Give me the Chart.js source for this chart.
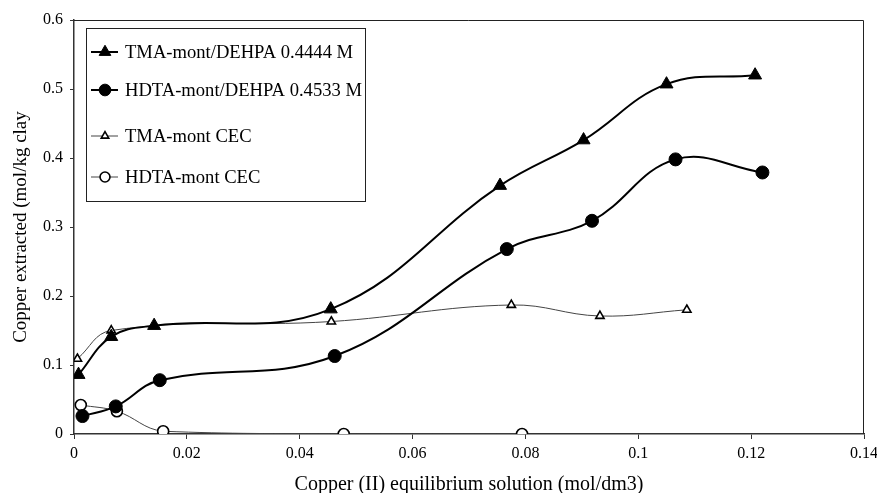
<!DOCTYPE html>
<html>
<head>
<meta charset="utf-8">
<script src="https://cdn.jsdelivr.net/npm/chart.js@4.4.1/dist/chart.umd.min.js"></script>
<style>
  html, body { margin: 0; padding: 0; background: #fff; }
  #wrap { width: 877px; height: 493px; }
</style>
</head>
<body>
<div id="wrap"><canvas id="c" width="877" height="493"></canvas></div>
<script>
// ---- data ----
const seriesNames = [
  'TMA-mont/DEHPA 0.4444 M',
  'HDTA-mont/DEHPA 0.4533 M',
  'TMA-mont CEC',
  'HDTA-mont CEC'
];
const tmaDehpaX = [0.0008, 0.0066, 0.0142, 0.0455, 0.0755, 0.0903, 0.105, 0.1207];
const tmaDehpaY = [0.086, 0.141, 0.157, 0.181, 0.360, 0.426, 0.507, 0.520];
const hdtaDehpaX = [0.0015, 0.0074, 0.0152, 0.0462, 0.0767, 0.0918, 0.1066, 0.122];
const hdtaDehpaY = [0.026, 0.040, 0.078, 0.113, 0.268, 0.309, 0.398, 0.379];
const tmaCecX = [0.0006, 0.0066, 0.0456, 0.0775, 0.0932, 0.1086];
const tmaCecY = [0.109, 0.150, 0.163, 0.187, 0.171, 0.180];
const hdtaCecX = [0.0012, 0.0076, 0.0158, 0.0478, 0.0794];
const hdtaCecY = [0.042, 0.033, 0.004, 0.000, 0.000];
const xTickLabels = ['0', '0.02', '0.04', '0.06', '0.08', '0.1', '0.12', '0.14'];
const yTickLabels = ['0', '0.1', '0.2', '0.3', '0.4', '0.5', '0.6'];
const xTitle = 'Copper (II) equilibrium solution (mol/dm3)';
const yTitle = 'Copper extracted (mol/kg clay';

function pts(xs, ys) { return xs.map((x, i) => ({ x: x, y: ys[i] })); }

const serif = "'Liberation Serif', 'Times New Roman', serif";

const datasets = [
  { label: seriesNames[0], data: pts(tmaDehpaX, tmaDehpaY), borderColor: '#000', borderWidth: 2,
    pointStyle: 'triangle', pointRadius: 7.5, pointBackgroundColor: '#000', pointBorderColor: '#000', pointBorderWidth: 1 },
  { label: seriesNames[1], data: pts(hdtaDehpaX, hdtaDehpaY), borderColor: '#000', borderWidth: 2,
    pointStyle: 'circle', pointRadius: 6.5, pointBackgroundColor: '#000', pointBorderColor: '#000', pointBorderWidth: 1 },
  { label: seriesNames[2], data: pts(tmaCecX, tmaCecY), borderColor: '#444', borderWidth: 1,
    pointStyle: 'triangle', pointRadius: 4.8, pointBackgroundColor: '#fff', pointBorderColor: '#000', pointBorderWidth: 1.6 },
  { label: seriesNames[3], data: pts(hdtaCecX, hdtaCecY), borderColor: '#444', borderWidth: 1,
    pointStyle: 'circle', pointRadius: 5.5, pointBackgroundColor: '#fff', pointBorderColor: '#000', pointBorderWidth: 1.6 }
].map(d => Object.assign({ fill: false, tension: 0.4, showLine: true }, d));

const frameAndLegend = {
  id: 'frameAndLegend',
  afterDatasetsDraw(chart) {
    const ctx = chart.ctx;
    const a = chart.chartArea;
    ctx.save();
    // plot frame (top and right sides)
    ctx.strokeStyle = '#222';
    ctx.lineWidth = 1;
    ctx.beginPath();
    ctx.moveTo(a.left, a.top + 0.5);
    ctx.lineTo(a.right - 0.5, a.top + 0.5);
    ctx.lineTo(a.right - 0.5, a.bottom);
    ctx.stroke();
    // legend box
    const bx = 86.5, by = 28.5, bw = 279, bh = 173;
    ctx.fillStyle = '#fff';
    ctx.fillRect(bx, by, bw, bh);
    ctx.strokeStyle = '#222';
    ctx.strokeRect(bx, by, bw, bh);
    const rows = [52, 90, 136, 177];
    ctx.font = '18.6px ' + serif;
    ctx.textBaseline = 'middle';
    ctx.textAlign = 'left';
    chart.data.datasets.forEach((ds, i) => {
      const y = rows[i];
      ctx.strokeStyle = ds.borderColor;
      ctx.lineWidth = ds.borderWidth;
      ctx.beginPath();
      ctx.moveTo(91, y);
      ctx.lineTo(118, y);
      ctx.stroke();
      ctx.fillStyle = ds.pointBackgroundColor;
      ctx.strokeStyle = ds.pointBorderColor;
      ctx.lineWidth = ds.pointBorderWidth;
      Chart.helpers.drawPoint(ctx, { pointStyle: ds.pointStyle, radius: ds.pointRadius * 0.9, borderWidth: ds.pointBorderWidth }, 105, y);
      ctx.fillStyle = '#000';
      ctx.fillText(ds.label, 125, y + 1);
    });
    ctx.restore();
  }
};

new Chart(document.getElementById('c'), {
  type: 'line',
  data: { datasets: datasets },
  plugins: [frameAndLegend],
  options: {
    responsive: false,
    animation: false,
    events: [],
    layout: { padding: { top: 20, right: 13, bottom: 0, left: 0 } },
    plugins: { legend: { display: false }, tooltip: { enabled: false } },
    scales: {
      x: {
        type: 'linear', min: 0, max: 0.14,
        afterFit(s) { s.height = 59; s.paddingRight = 0; s.paddingLeft = 0; },
        ticks: { stepSize: 0.02, padding: 5, color: '#000', font: { family: serif, size: 16 },
          callback: (v) => xTickLabels[Math.round(v / 0.02)] },
        grid: { drawOnChartArea: false, drawTicks: true, tickLength: 5, color: '#333' },
        border: { display: true, color: '#333', width: 1.5 },
        title: { display: true, text: xTitle, color: '#000', font: { family: serif, size: 20, lineHeight: 1 },
          padding: { top: 0, bottom: -2 } }
      },
      y: {
        type: 'linear', min: 0, max: 0.6,
        afterFit(s) { s.width = 74; s.paddingTop = 0; s.paddingBottom = 0; },
        ticks: { stepSize: 0.1, padding: 7, color: '#000', font: { family: serif, size: 16 },
          callback: (v) => yTickLabels[Math.round(v / 0.1)] },
        grid: { drawOnChartArea: false, drawTicks: true, tickLength: 4, color: '#333' },
        border: { display: true, color: '#333', width: 1.5 },
        title: { display: true, text: yTitle, color: '#000', font: { family: serif, size: 19, lineHeight: 1 },
          padding: { top: 12, bottom: 0 } }
      }
    }
  }
});
</script>
</body>
</html>
